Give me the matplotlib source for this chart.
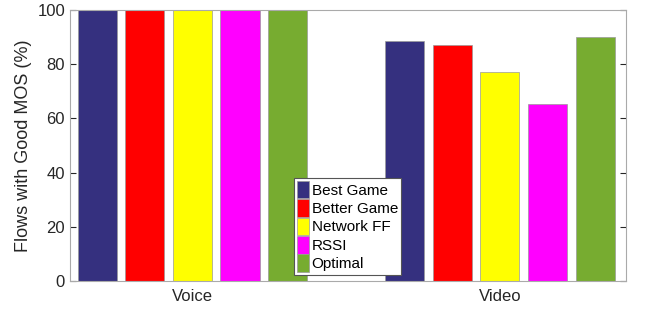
import numpy as np
import matplotlib.pyplot as plt
from matplotlib.patches import Patch

plt.rcParams["font.family"] = ["Liberation Sans", "DejaVu Sans"]

groups = ["Voice", "Video"]
series = ["Best Game", "Better Game", "Network FF", "RSSI", "Optimal"]
values = {
    "Best Game": [100, 88.6],
    "Better Game": [100, 87.1],
    "Network FF": [100, 77.1],
    "RSSI": [100, 65.3],
    "Optimal": [100, 90.0],
}
colors = ["#35307f", "#ff0000", "#ffff00", "#ff00ff", "#77ac30"]

fig = plt.figure(figsize=(6.45, 3.1), dpi=100)
ax = fig.add_axes([0.1085, 0.0935, 0.862, 0.874])

x = np.arange(1, len(groups) + 1)
pitch = 0.155
for i, (name, c) in enumerate(zip(series, colors)):
    ax.bar(x + (i - 2) * pitch, values[name], width=pitch * 0.82, color=c,
           edgecolor="#9a9a9a", linewidth=0.5, label=name, zorder=2)

ax.set_xlim(0.602, 2.41)
ax.set_ylim(0, 100)
ax.set_yticks([0, 20, 40, 60, 80, 100])
ax.set_xticks(x)
ax.set_xticklabels(groups)
ax.set_ylabel("Flows with Good MOS (%)", fontsize=13, color="#262626")
ax.tick_params(axis="both", labelsize=12, colors="#262626", direction="in",
               length=4, right=True, top=False)
ax.tick_params(axis="x", length=0, pad=6)
for s in ax.spines.values():
    s.set_color("#aaaaaa")
    s.set_linewidth(0.8)

handles = [Patch(facecolor=c, edgecolor="#9a9a9a", linewidth=0.5) for c in colors]
leg = ax.legend(handles, series, loc="lower left", bbox_to_anchor=(0.403, 0.022),
                borderaxespad=0, fontsize=11, handlelength=0.8, handleheight=1.4,
                handletextpad=0.15, labelspacing=0.05, borderpad=0.2,
                fancybox=False, framealpha=1, edgecolor="#555555")
leg.get_frame().set_linewidth(0.8)

fig.savefig("out.png", dpi=100)
